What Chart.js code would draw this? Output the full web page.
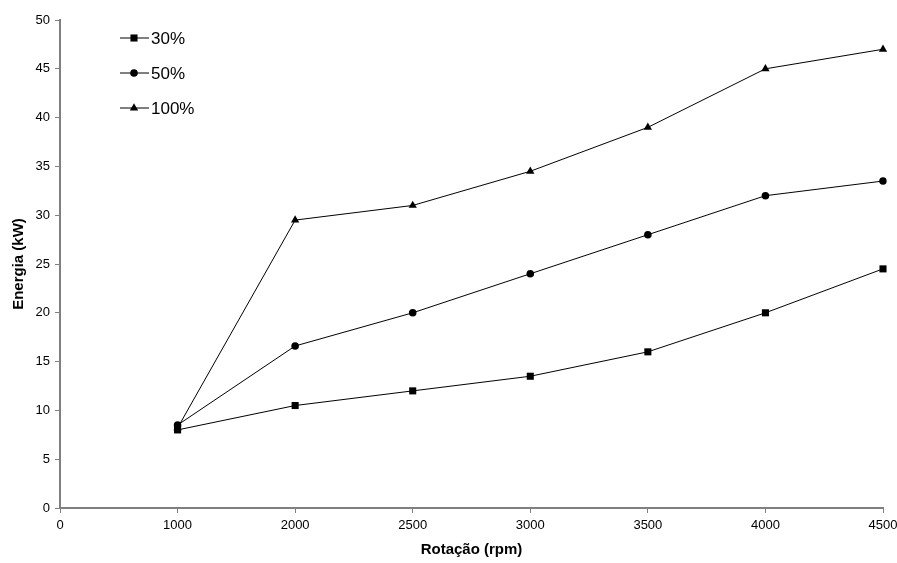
<!DOCTYPE html>
<html>
<head>
<meta charset="utf-8">
<script src="https://cdn.jsdelivr.net/npm/chart.js@4/dist/chart.umd.min.js"></script>
<style>
  html, body { margin: 0; padding: 0; background: #fff; }
  #wrap { width: 897px; height: 563px; position: relative; }
</style>
</head>
<body>
<div id="wrap"><canvas id="c"></canvas></div>
<script>
// x categories (rpm) — evenly spaced, like the original
const rpm = ['0', '1000', '2000', '2500', '3000', '3500', '4000', '4500'];

const load30 = [null, 8, 10.5, 12, 13.5, 16, 20, 24.5];
const load50 = [null, 8.5, 16.6, 20, 24, 28, 32, 33.5];
const load100 = [null, 8.2, 29.5, 31, 34.5, 39, 45, 47];

const yTicks = [0, 5, 10, 15, 20, 25, 30, 35, 40, 45, 50];

const AXIS = '#808080';

function series(label, data, style, radius) {
    return {
        label,
        data,
        borderColor: '#000',
        backgroundColor: '#000',
        borderWidth: 1,
        pointStyle: style,
        pointRadius: radius,
        pointHoverRadius: radius,
        pointBorderWidth: 0,
        tension: 0,
        spanGaps: false,
    };
}

// legend drawn inside the plot, top-left, vertical list
const insideLegend = {
    id: 'insideLegend',
    afterDraw(chart) {
        const ctx = chart.ctx;
        const x0 = 120, x1 = 149, mid = 134;
        const rows = [38, 73, 108];
        ctx.save();
        chart.data.datasets.forEach((ds, i) => {
            const y = rows[i];
            ctx.strokeStyle = '#000';
            ctx.lineWidth = 1;
            ctx.beginPath();
            ctx.moveTo(x0, y);
            ctx.lineTo(x1, y);
            ctx.stroke();
            ctx.fillStyle = '#000';
            Chart.helpers.drawPoint(ctx, {
                pointStyle: ds.pointStyle,
                radius: ds.pointRadius,
                rotation: 0,
                borderWidth: 0,
            }, mid, y);
            ctx.font = '17px "Liberation Sans", Arial, sans-serif';
            ctx.textBaseline = 'middle';
            ctx.textAlign = 'left';
            ctx.fillText(ds.label, 151, y + 1);
        });
        ctx.restore();
    }
};

new Chart(document.getElementById('c'), {
    type: 'line',
    data: {
        labels: rpm,
        datasets: [
            series('30%', load30, 'rect', 5),
            series('50%', load50, 'circle', 3.8),
            series('100%', load100, 'triangle', 4.8),
        ],
    },
    options: {
        responsive: true,
        maintainAspectRatio: false,
        animation: false,
        layout: { padding: { top: 20, right: 0, left: 0, bottom: 0 } },
        plugins: {
            legend: { display: false },
            tooltip: { enabled: false },
        },
        scales: {
            x: {
                type: 'category',
                offset: false,
                grid: {
                    drawOnChartArea: false,
                    color: AXIS,
                    tickLength: 5,
                },
                border: { color: AXIS, width: 2 },
                ticks: {
                    color: '#000',
                    maxRotation: 0,
                    autoSkip: false,
                    padding: 5,
                    font: { family: '"Liberation Sans Narrow", "Liberation Sans", Arial', size: 13 },
                },
                title: {
                    display: true,
                    text: 'Rotação (rpm)',
                    color: '#000',
                    font: { family: '"Liberation Sans", Arial', size: 15, weight: 'bold' },
                    padding: { top: 4 },
                },
                afterFit(scale) {
                    scale.height = 55;
                    scale.paddingRight = 14;
                },
            },
            y: {
                min: 0,
                max: 50,
                afterBuildTicks(scale) { scale.ticks = yTicks.map(v => ({ value: v })); },
                grid: {
                    drawOnChartArea: false,
                    color: AXIS,
                    tickLength: 5,
                },
                border: { color: AXIS, width: 2 },
                ticks: {
                    color: '#000',
                    padding: 5,
                    font: { family: '"Liberation Sans", Arial', size: 13 },
                },
                title: {
                    display: true,
                    text: 'Energia (kW)',
                    color: '#000',
                    font: { family: '"Liberation Sans", Arial', size: 15, weight: 'bold' },
                    padding: { top: 10, bottom: 0 },
                },
                afterFit(scale) { scale.width = 60; },
            },
        },
    },
    plugins: [insideLegend],
});
</script>
</body>
</html>
